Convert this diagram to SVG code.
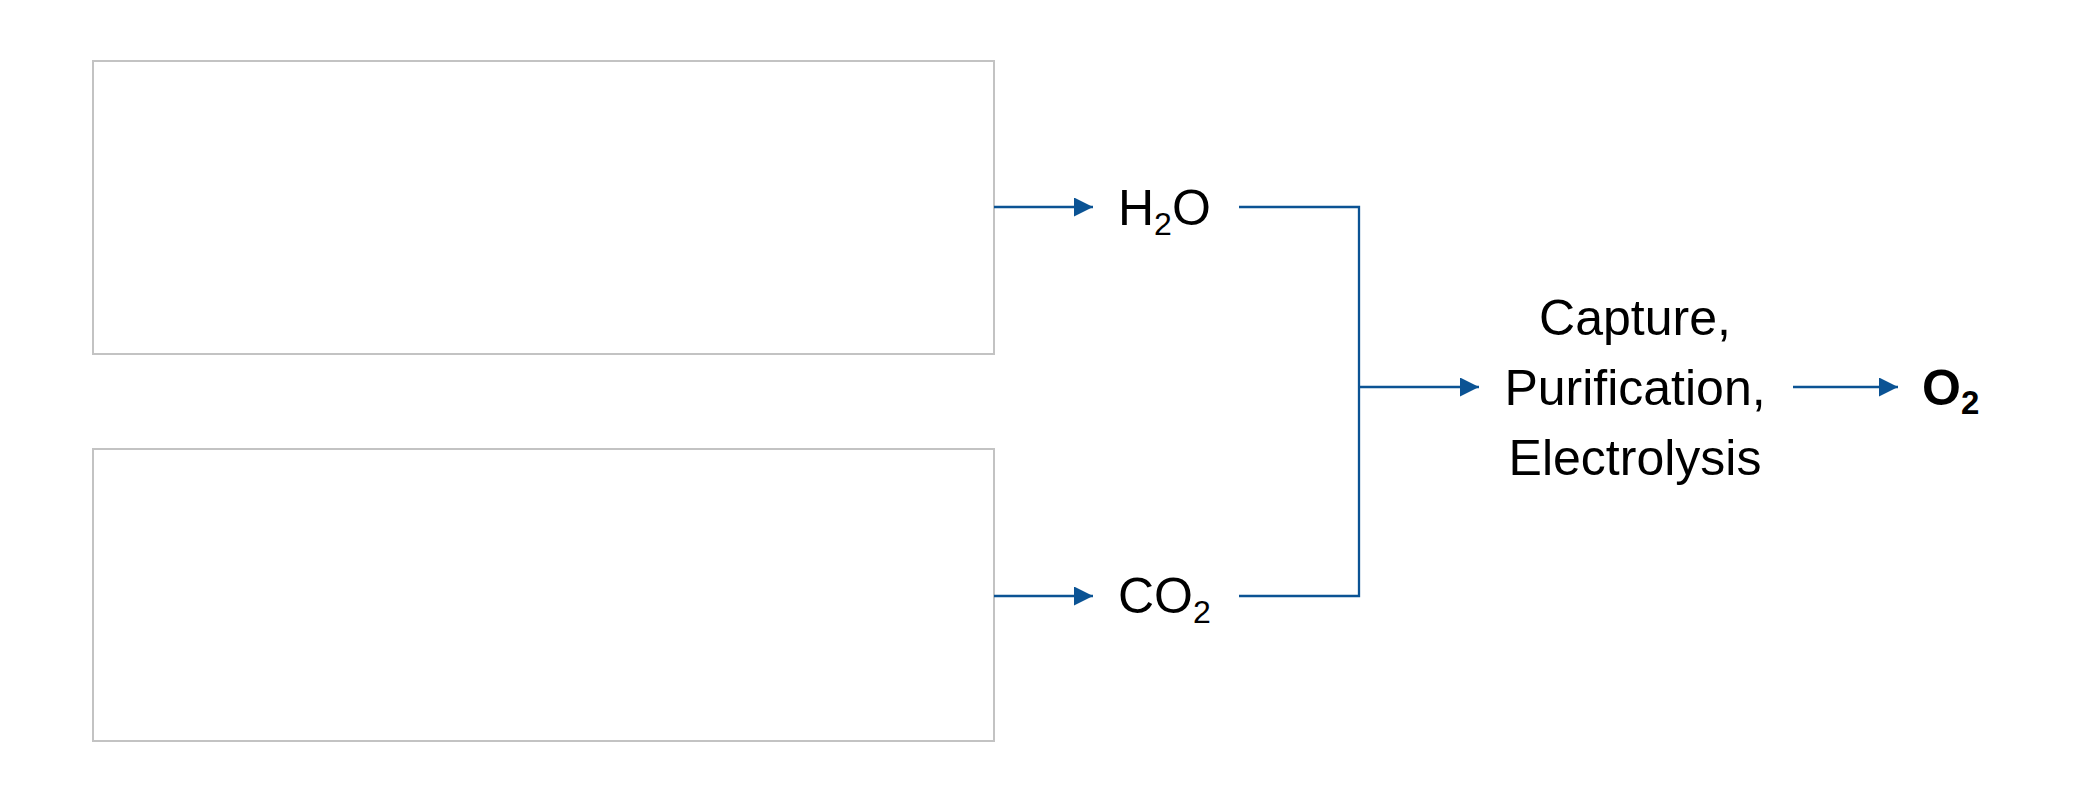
<svg xmlns="http://www.w3.org/2000/svg" width="2098" height="798" viewBox="0 0 2098 798">
<defs>
<marker id="ah" markerUnits="userSpaceOnUse" markerWidth="20" markerHeight="20" refX="19" refY="9.5" orient="auto">
<path d="M0,0 L19,9.5 L0,19 Z" fill="#0b5394"/>
</marker>
<style>
.box{fill:#ffffff;stroke:#c3c3c3;stroke-width:2}
.conn{fill:none;stroke:#0b5394;stroke-width:2.3}
.t{font-family:"Liberation Sans",Arial,sans-serif;font-size:50px;fill:#000}
.b{font-weight:bold}
</style>
</defs>
<rect width="2098" height="798" fill="#ffffff"/>
<g id="box-top"><rect class="box" x="93" y="61" width="901" height="293"/></g>
<g id="box-bottom"><rect class="box" x="93" y="449" width="901" height="292"/></g>
<g id="connectors">
<path class="conn" d="M994,207 H1093" marker-end="url(#ah)"/>
<path class="conn" d="M994,596 H1093" marker-end="url(#ah)"/>
<path class="conn" d="M1239,207 H1359 V596 H1239"/>
<path class="conn" d="M1359,387 H1479" marker-end="url(#ah)"/>
<path class="conn" d="M1793,387 H1898" marker-end="url(#ah)"/>
</g>
<g id="h2o"><text class="t" x="1118" y="225">H<tspan font-size="32" dy="10">2</tspan><tspan dy="-10">O</tspan></text></g>
<g id="co2"><text class="t" x="1118" y="613">CO<tspan font-size="32" dy="10">2</tspan></text></g>
<g id="process">
<text class="t" x="1635" y="335" text-anchor="middle">Capture,</text>
<text class="t" x="1635" y="405" text-anchor="middle">Purification,</text>
<text class="t" x="1635" y="475" text-anchor="middle">Electrolysis</text>
</g>
<g id="o2"><text class="t b" x="1922" y="405">O<tspan font-size="33" dy="9">2</tspan></text></g>
</svg>
